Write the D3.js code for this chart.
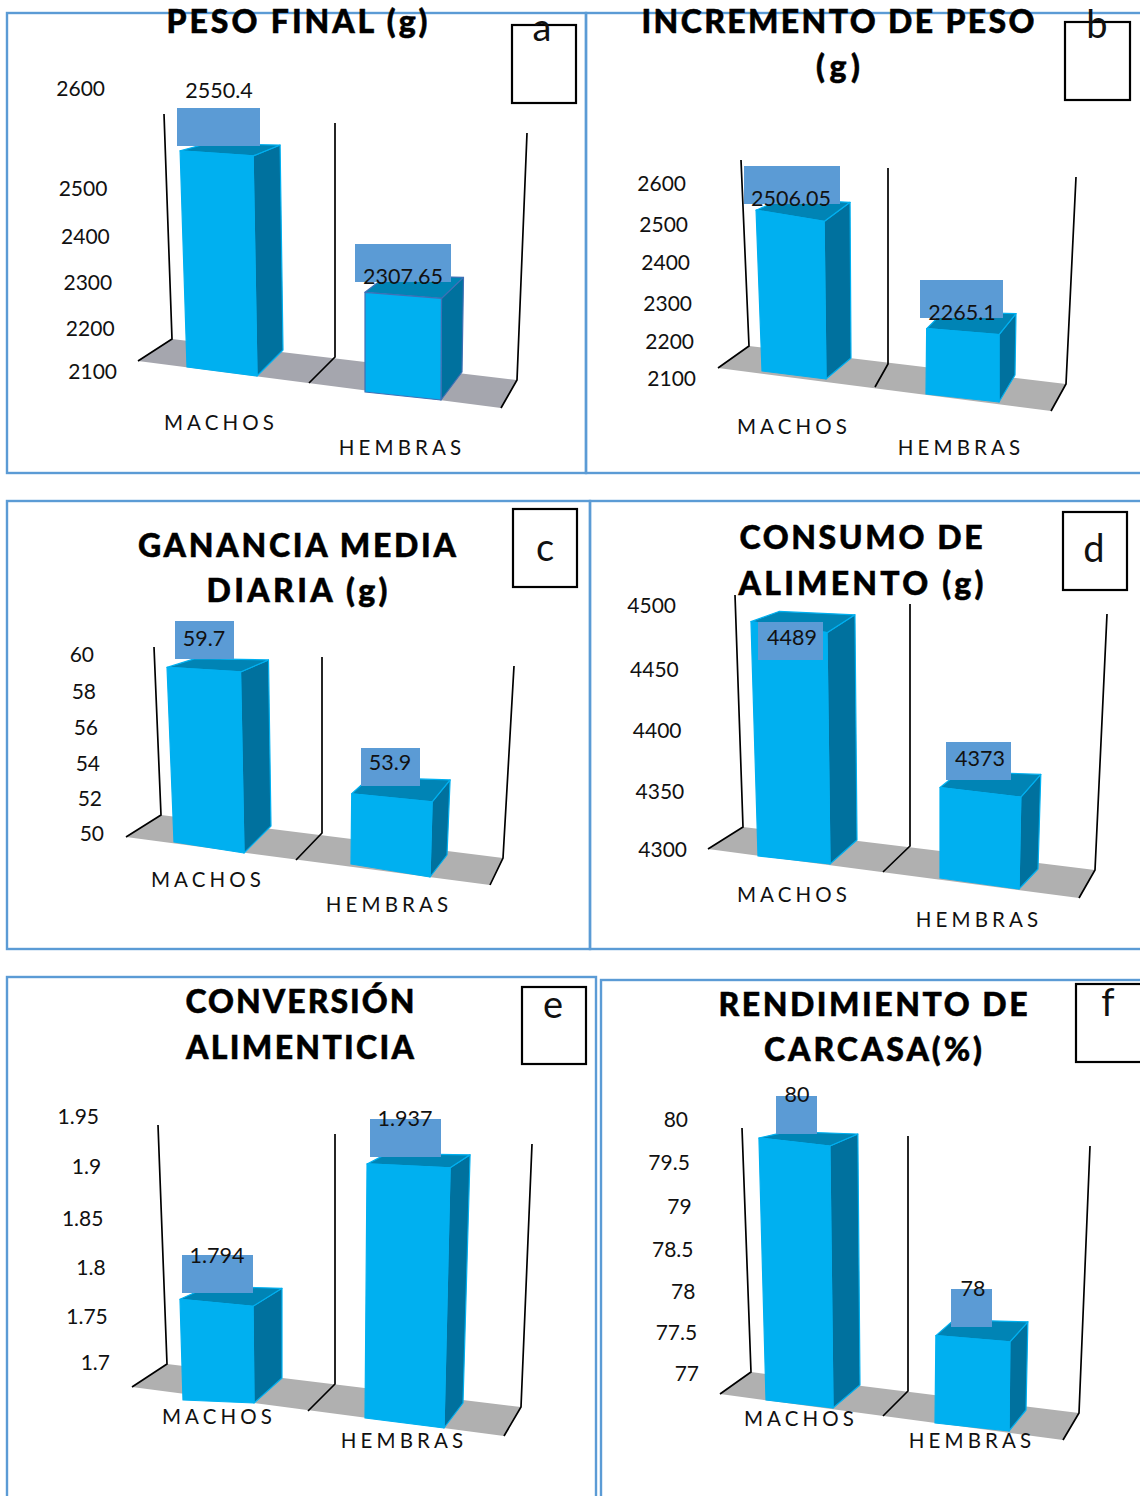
<!DOCTYPE html>
<html><head><meta charset="utf-8">
<style>html,body{margin:0;padding:0;background:#fff}svg{display:block}</style>
<script src="https://cdn.jsdelivr.net/npm/d3@7"></script>
</head><body><svg id="c" width="1140" height="1496"></svg>
<script>
// ---- data ----
const categories = ["MACHOS","HEMBRAS"];
const letters = ["a","b","c","d","e","f"];
const titles = [["PESO FINAL (g)"],["INCREMENTO DE PESO","(g)"],["GANANCIA MEDIA","DIARIA (g)"],["CONSUMO DE","ALIMENTO (g)"],["CONVERSIÓN","ALIMENTICIA"],["RENDIMIENTO DE","CARCASA(%)"]];
const valuesA = [2550.4,2307.65];
const valuesB = [2506.05,2265.1];
const valuesC = [59.7,53.9];
const valuesD = [4489,4373];
const valuesE = [1.794,1.937];
const valuesF = [80,78];
const ticksA = [2100,2200,2300,2400,2500,2600];
const ticksB = [2100,2200,2300,2400,2500,2600];
const ticksC = [50,52,54,56,58,60];
const ticksD = [4300,4350,4400,4450,4500];
const ticksE = [1.7,1.75,1.8,1.85,1.9,1.95];
const ticksF = [77,77.5,78,78.5,79,79.5,80];
const allValues = [valuesA,valuesB,valuesC,valuesD,valuesE,valuesF];
const allTicks = [ticksA,ticksB,ticksC,ticksD,ticksE,ticksF];

// ---- layout (hand placement of the 3-D look, one entry per panel) ----
const layout = [
 {frame:[7,13,579,460], box:[512,25,64,78], letter:[542,41], title:[297,[33]], titleW:[261], tickY:[372,329,283,237,189,89], tickX:[117,105], h:240, floorC:"#a5a6ae",
  walls:[[164,114,172,339,138,361],[335,123,335,357,309,383],[527,133,517,380,501,408]],
  bars:[{b:[187,367,257,376],lean:[-.032,-.018],d:[26,-26,.07],r:1.018,stroke:"#00b0f0"},{b:[365,392,441,400],lean:[0,.005],d:[21,-28,.07],r:1.02,stroke:"#3f70b5"}],
  vbox:[[177,108,83],[355,244,96]], vtext:[[219,90],[403,276]], cat:[[220,423],[401,448]]},
 {frame:[586,13,560,460], box:[1065,22,65,78], letter:[1097,38], title:[838,[33,78]], titleW:[393,44], tickY:[379,342,304,263,225,184], tickX:[696,686], h:198, floorC:"#b0b0b0",
  walls:[[741,160,749,346,718,368],[888,168,888,364,875,387],[1076,177,1066,384,1051,411]],
  bars:[{b:[762,371,826,379],lean:[-.037,-.012],d:[25,-21,.012],r:.98,stroke:"#00b0f0"},{b:[926,394,999,402],lean:[.01,0],d:[16,-27,.09],r:1.03,stroke:"#00b0f0"}],
  vbox:[[744,166,96],[920,280,83]], vtext:[[791,198],[962,312]], cat:[[793,427],[960,448]]},
 {frame:[7,501,583,448], box:[513,509,64,78], letter:[545,561], title:[297,[557,602]], titleW:[318,181], tickY:[834,799,764,728,692,655], tickX:[104,94], h:180, floorC:"#b0b0b0",
  walls:[[154,647,161,815,126,837],[322,657,322,833,296,860],[514,666,503,858,490,885]],
  bars:[{b:[174,842,244,853],lean:[-.04,-.02],d:[27,-27,.086],r:1.037,stroke:"#00b0f0"},{b:[351,864,430,877],lean:[.01,.03],d:[17,-22,0],r:1.07,stroke:"#00b0f0"}],
  vbox:[[175,621,59],[361,748,59]], vtext:[[204,638],[390,762]], cat:[[207,880],[388,905]]},
 {frame:[590,501,560,448], box:[1063,512,64,78], letter:[1094,562], title:[861,[549,595]], titleW:[243,245], tickY:[850,792,731,670,606], tickX:[687,676], h:248, floorC:"#b0b0b0",
  walls:[[735,595,743,827,708,849],[910,604,910,846,883,872],[1107,614,1095,870,1079,898]],
  bars:[{b:[758,856,830,864],lean:[-.03,-.013],d:[27,-24,.026],r:.987,stroke:"#00b0f0"},{b:[940,878,1019,889],lean:[0,.02],d:[19,-20,-.03],r:1.015,stroke:"#00b0f0"}],
  vbox:[[758,622,65],[946,742,65]], vtext:[[792,637],[980,758]], cat:[[793,895],[978,920]]},
 {frame:[7,977,589,530], box:[522,987,64,77], letter:[553,1018], title:[300,[1013,1059]], titleW:[229,228], tickY:[1363,1317,1268,1219,1167,1117], tickX:[110,99], h:268, floorC:"#b0b0b0",
  walls:[[158,1125,167,1364,132,1387],[335,1134,335,1384,308,1411],[532,1144,521,1407,504,1436]],
  bars:[{b:[183,1400,254,1403],lean:[-.03,-.01],d:[28,-25,.07],r:.96,stroke:"#00b0f0"},{b:[365,1418,444,1428],lean:[.008,.024],d:[19,-25,.047],r:1.024,stroke:"#00b0f0"}],
  vbox:[[182,1255,71],[370,1119,71]], vtext:[[217,1255],[405,1118]], cat:[[218,1417],[403,1441]]},
 {frame:[601,980,549,530], box:[1076,984,70,78], letter:[1108,1016], title:[873,[1016,1061]], titleW:[309,218], tickY:[1374,1333,1292,1250,1207,1163,1120], tickX:[699,688], h:262, floorC:"#b0b0b0",
  walls:[[742,1128,751,1372,720,1394],[908,1136,908,1391,883,1416],[1090,1146,1079,1413,1063,1440]],
  bars:[{b:[766,1400,833,1408],lean:[-.027,-.012],d:[27,-23,.042],r:1,stroke:"#00b0f0"},{b:[935,1423,1009,1431],lean:[.01,.01],d:[17,-21,.01],r:1.02,stroke:"#00b0f0"}],
  vbox:[[776,1096,41],[951,1289,41]], vtext:[[797,1094],[973,1288]], cat:[[800,1419],[971,1441]]}
];

const FONT = "Lato, 'Open Sans', sans-serif";
const svg = d3.select("#c");

layout.forEach((p,i)=>{
  const values = allValues[i], ticks = allTicks[i];
  const g = svg.append("g");
  g.append("rect").attr("x",p.frame[0]).attr("y",p.frame[1]).attr("width",p.frame[2]).attr("height",p.frame[3])
    .attr("fill","none").attr("stroke","#5b9bd5").attr("stroke-width",2.4);

  // floor and walls
  const w = p.walls;
  g.append("polygon").attr("fill",p.floorC)
    .attr("points",[[w[0][2],w[0][3]],[w[2][2],w[2][3]],[w[2][4],w[2][5]],[w[0][4],w[0][5]]].join(" "));
  g.selectAll("path.wall").data(w).join("path").attr("class","wall").attr("fill","none")
    .attr("stroke","#000").attr("stroke-width",1.7)
    .attr("d",d=>d3.line()([[d[0],d[1]],[d[2],d[3]],[d[4],d[5]]]));

  // value → bar height
  const hScale = d3.scaleLinear().domain(d3.extent(ticks)).range([0,p.h]);

  p.bars.forEach((b,j)=>{
    const h = hScale(values[j]);
    const [x0,y0,x1,y1] = b.b;
    const BL=[x0,y0], BR=[x1,y1];
    const TL=[x0+b.lean[0]*h,y0-h], TR=[x1+b.lean[1]*h,y1-h*b.r];
    const dT=[b.d[0]+1,b.d[1]+b.d[2]*h];
    const BK=[x1+b.d[0],y1+b.d[1]], TK=[TR[0]+dT[0],TR[1]+dT[1]];
    const LK=[TL[0]+dT[0],TK[1]-0.3*(TR[1]-TL[1])];
    const poly=(pts,fill)=>g.append("polygon").attr("points",pts.join(" ")).attr("fill",fill)
       .attr("stroke",b.stroke).attr("stroke-width",1.2).attr("stroke-linejoin","round");
    poly([BR,BK,TK,TR],"#00719e");
    poly([TL,TR,TK,LK],"#0084b5");
    poly([BL,BR,TR,TL],"#00b0f0");
  });

  // data-label boxes and value text
  g.selectAll("rect.vb").data(p.vbox).join("rect").attr("class","vb")
    .attr("x",d=>d[0]).attr("y",d=>d[1]).attr("width",d=>d[2]).attr("height",38).attr("fill","#5b9bd5");
  g.selectAll("text.v").data(values).join("text").attr("class","v")
    .attr("x",(d,j)=>p.vtext[j][0]).attr("y",(d,j)=>p.vtext[j][1]).attr("dy",".35em")
    .attr("text-anchor","middle").attr("font-family",FONT).attr("font-size",21.5).attr("fill","#111")
    .text(d=>String(d));

  // value axis (hand-tilted in the reference)
  const yTick = d3.scaleLinear().domain(ticks).range(p.tickY);
  const xTick = d3.scaleLinear().domain(d3.extent(ticks)).range(p.tickX);
  const ax = g.append("g").call(d3.axisLeft(yTick).tickValues(ticks).tickSize(0).tickFormat(d=>String(d)));
  ax.select(".domain").remove();
  ax.selectAll("text").attr("x",d=>xTick(d)).attr("dy",".3em").attr("font-family",FONT).attr("font-size",21).attr("fill","#111");

  // category labels
  g.selectAll("text.c").data(categories).join("text").attr("class","c")
    .attr("x",(d,j)=>p.cat[j][0]+1).attr("y",(d,j)=>p.cat[j][1]).attr("dy",".35em")
    .attr("text-anchor","middle").attr("font-family",FONT).attr("font-size",20.5)
    .attr("letter-spacing",4.1).attr("fill","#111").text(d=>d);

  // letter box
  g.append("rect").attr("x",p.box[0]).attr("y",p.box[1]).attr("width",p.box[2]).attr("height",p.box[3])
    .attr("fill","#fff").attr("stroke","#000").attr("stroke-width",2.2);
  g.append("text").attr("x",p.letter[0]).attr("y",p.letter[1]).attr("text-anchor","middle")
    .attr("font-family",FONT).attr("font-size",38).attr("fill","#111").text(letters[i]);

  // title
  titles[i].forEach((t,k)=>{
    g.append("text").attr("x",p.title[0]).attr("y",p.title[1][k]).attr("text-anchor","middle")
      .attr("font-family",FONT).attr("font-weight",900).attr("font-size",32)
      .attr("textLength",p.titleW[k]).attr("lengthAdjust","spacing")
      .attr("fill","#000").attr("stroke","#000").attr("stroke-width",.5).text(t);
  });
});
</script></body></html>
